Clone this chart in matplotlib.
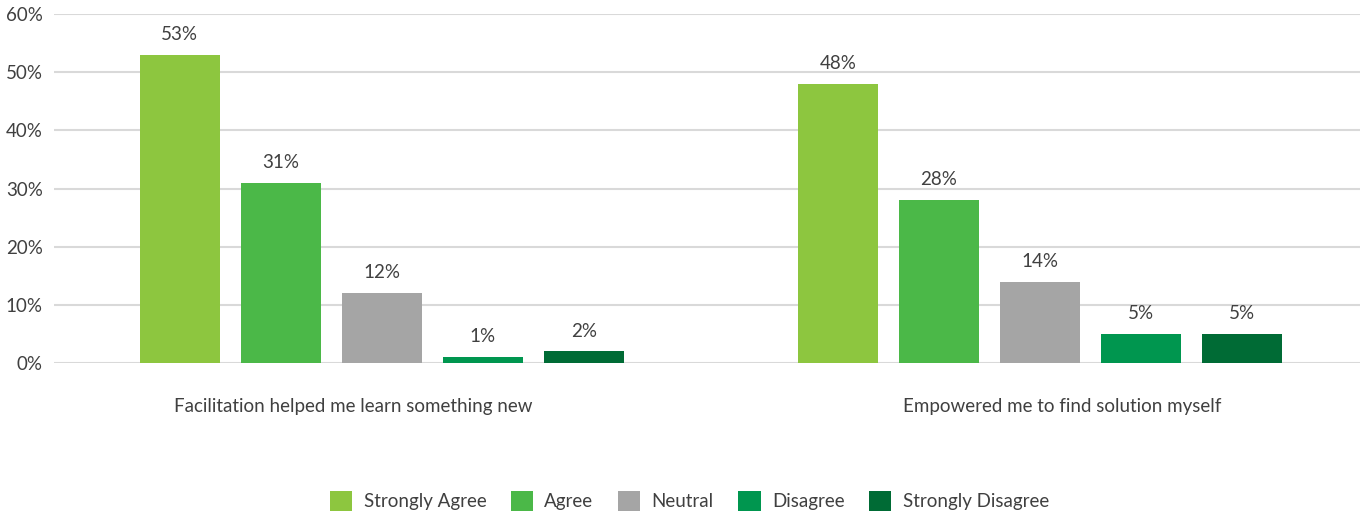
import matplotlib.pyplot as plt
import matplotlib.transforms as mtransforms
import numpy as np

plt.rcParams['font.family'] = ['Lato', 'DejaVu Sans']

# data
categories = ["Facilitation helped me learn something new",
              "Empowered me to find solution myself"]
series = ["Strongly Agree", "Agree", "Neutral", "Disagree", "Strongly Disagree"]
strongly_agree = [53, 48]
agree = [31, 28]
neutral = [12, 14]
disagree = [1, 5]
strongly_disagree = [2, 5]
values = [strongly_agree, agree, neutral, disagree, strongly_disagree]
colors = ["#8DC63F", "#4BB848", "#A5A5A5", "#00964F", "#006B35"]
yticks = [0, 10, 20, 30, 40, 50, 60]

TEXT = "#404040"
GRID = "#D9D9D9"
FS = 13.5
BAR_W = 80 / 658
STEP = 101 / 658

fig = plt.figure(figsize=(13.65, 5.16), dpi=100)
ax = fig.add_axes([54 / 1365, 1 - 363 / 516, (1360 - 54) / 1365, (363 - 14) / 516])

x = np.arange(len(categories))
for i, name in enumerate(series):
    pos = x + (i - 2) * STEP
    bars = ax.bar(pos, values[i], width=BAR_W, color=colors[i], label=name, zorder=3)
    for b, v in zip(bars, values[i]):
        ax.annotate(f"{v}%", (b.get_x() + b.get_width() / 2, v),
                    xytext=(0, 8.5), textcoords="offset points",
                    ha="center", va="bottom", fontsize=FS, color=TEXT)

ax.set_ylim(0, 60)
ax.set_xlim(-0.498, 1.486)
ax.set_yticks(yticks)
ax.set_yticklabels([f"{t}%" for t in yticks])
ax.set_xticks(x)
ax.set_xticklabels(categories)
ax.grid(axis="y", color=GRID, linewidth=1.5, zorder=0)
for s in ax.spines.values():
    s.set_visible(False)
ax.tick_params(axis="both", length=0, labelsize=FS, colors=TEXT)
ax.tick_params(axis="x", pad=25)
ax.tick_params(axis="y", pad=8)

# the category labels sit a little off the group centres in the original
for lbl, dx in zip(ax.get_xticklabels(), [-29, 22]):
    lbl.set_transform(lbl.get_transform() + mtransforms.Affine2D().translate(dx, 0))

fig.legend(loc="center", bbox_to_anchor=(0.505, 15 / 516), ncol=5, frameon=False,
           fontsize=FS, labelcolor=TEXT, handlelength=1.2, handleheight=1.2,
           handletextpad=0.6, columnspacing=1.3)

fig.savefig("out.png", dpi=100)
